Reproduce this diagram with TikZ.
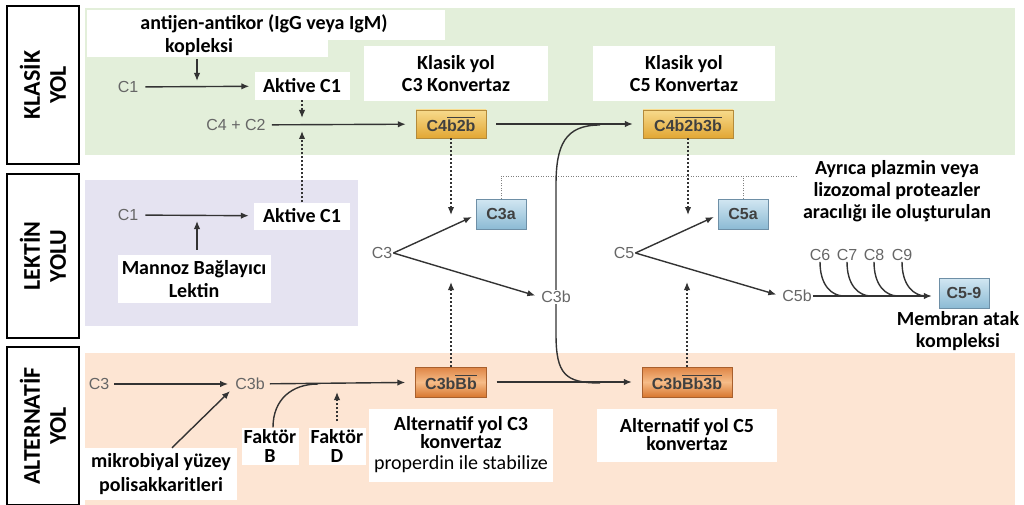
\documentclass[tikz,border=0pt]{standalone}
\usepackage{fontspec}
\setmainfont{Carlito}
\newfontfamily\compfont{Liberation Sans}
\usetikzlibrary{arrows.meta,positioning,calc}

\definecolor{klasikbg}{HTML}{E3EFDA}
\definecolor{lektinbg}{HTML}{E5E3F1}
\definecolor{alterbg}{HTML}{FDE5D3}
\definecolor{compgrey}{HTML}{666666}
\definecolor{arrgrey}{HTML}{333333}
\definecolor{goldtop}{HTML}{F7DA8C}
\definecolor{goldbot}{HTML}{E2A734}
\definecolor{goldline}{HTML}{B48A3A}
\definecolor{orgtop}{HTML}{DE8444}
\definecolor{orgmid}{HTML}{F6BC88}
\definecolor{orgbot}{HTML}{D8772F}
\definecolor{orgline}{HTML}{A8602E}
\definecolor{bluetop}{HTML}{D2E7F2}
\definecolor{bluebot}{HTML}{8CBAD4}
\definecolor{blueline}{HTML}{6E8FA6}

% bar over the convertase subunits
\newcommand{\konvbar}[1]{\leavevmode\vbox{\hrule height 0.7pt\kern 2pt\hbox{#1}}}

\begin{document}
\begin{tikzpicture}[x=1pt, y=-1pt, >={Latex[length=8pt,width=6.5pt]},
  every node/.style={font=\bfseries\fontsize{20}{22}\selectfont}]
\tikzset{yolbox/.style={draw, line width=2.6pt, fill=white, rotate=90, align=center, inner sep=0pt, minimum height=72pt, font=\bfseries\fontsize{24}{26}\selectfont}}
\tikzset{lbl/.style={fill=white, align=center, inner sep=0pt}}
\tikzset{comp/.style={font=\compfont\fontsize{16}{18}\selectfont, text=compgrey, inner sep=1pt}}
\tikzset{konvbox/.style={draw=goldline, top color=goldtop, bottom color=goldbot, minimum height=28pt, inner sep=2pt, font=\compfont\bfseries\fontsize{16}{18}\selectfont, text=black!75}}
\tikzset{altkonv/.style={konvbox, draw=orgline, top color=orgtop, bottom color=orgbot, middle color=orgmid, minimum height=30pt}}
\tikzset{fragbox/.style={konvbox, draw=blueline, top color=bluetop, bottom color=bluebot, minimum width=50pt, minimum height=30pt}}
\tikzset{arr/.style={->, line width=1.4pt, draw=arrgrey}}
\tikzset{dotarr/.style={arr, dash pattern=on 2pt off 2pt}}
\tikzset{ln/.style={line width=1.4pt, draw=arrgrey}}
\tikzset{thindot/.style={draw=gray, line width=0.8pt, dash pattern=on 1pt off 1.5pt}}

% background bands
\fill[klasikbg] (85,8) rectangle (1015,155);
\fill[lektinbg] (85,180) rectangle (358,326);
\fill[alterbg] (85,353) rectangle (1015,505);
\useasboundingbox (0,0) rectangle (1024,501);

% pathway labels
\node[yolbox, minimum width=158pt] (klasik) at (43,85) {KLASİK\\YOL};
\node[yolbox, minimum width=164pt] (lektin) at (43,256) {LEKTİN\\YOLU};
\node[yolbox, minimum width=158pt] (alter) at (43,426) {ALTERNATİF\\YOL};

% klasik yol
\fill[white] (87,10) rectangle (445,40);
\fill[white] (87,38) rectangle (328,57);
\node (agab) at (264,24) {antijen-antikor (IgG veya IgM)};
\node (kopl) at (199,47) {kopleksi};
\coordinate (kopin) at (197,81);
\node[comp] (c1k) at (128,87) {C1};
\node[lbl, minimum width=95pt, minimum height=28pt] (akk) at (302,86) {Aktive C1};
\draw[arr, shorten <=6pt, shorten >=5pt] (c1k) -- (akk);
\draw[arr] (kopl.south -| kopin) -- (kopin);
\node[comp] (c4c2) at (236,125) {C4 + C2};
\node[konvbox, minimum width=70pt] (c4b2b) at (451,124) {C4\konvbar{b2b}};
\node[konvbox, minimum width=90pt] (c5kl) at (688,124) {C4\konvbar{b2b3b}};
\node[lbl, minimum width=184pt, minimum height=55pt] (kc3) at (456,74) {Klasik yol\\C3 Konvertaz};
\node[lbl, minimum width=182pt, minimum height=55pt] (kc5) at (684,74) {Klasik yol\\C5 Konvertaz};
\draw[arr, shorten <=5pt, shorten >=10pt] (c4c2) -- (c4b2b);
\draw[arr, shorten <=10pt, shorten >=10pt] (c4b2b) -- (c5kl);
\draw[dotarr, shorten >=7pt] (akk) -- (akk |- c4c2);

% lektin yolu
\node[comp] (c1l) at (128,215) {C1};
\node[lbl, minimum width=96pt, minimum height=27pt] (akl) at (302,216) {Aktive C1};
\draw[arr, shorten <=6pt, shorten >=5pt] (c1l) -- (akl);
\node[lbl, minimum width=153pt, minimum height=48pt, font=\bfseries\fontsize{20}{23}\selectfont] (mbl) at (194,279) {Mannoz Bağlayıcı\\Lektin};
\coordinate (mblin) at (197,221);
\draw[arr] ($(mbl.north -| mblin)+(0,-5)$) -- (mblin);
\draw[dotarr, shorten >=6pt] (akl) -- (akl |- c4c2);

% C3 ve C5 yarilmasi
\coordinate (c3dn) at (451,215);
\coordinate (c5dn) at (688,215);
\draw[dotarr] (c4b2b) -- (c3dn);
\draw[dotarr] (c5kl) -- (c5dn);
\node[fragbox] (c3a) at (501,214) {C3a};
\node[fragbox] (c5a) at (743,214) {C5a};
\node[align=center] (plzm) at (897,191) {Ayrıca plazmin veya\\lizozomal proteazler\\aracılığı ile oluşturulan};
\coordinate (plz) at (797,176);
\draw[thindot] (c3a.north) |- (plz);
\draw[thindot] (c5a.north) -- (c5a.north |- plz);
\node[comp] (c3) at (382,253) {C3};
\node[comp, fill=white] (c3b) at (556,297) {C3b};
\draw[arr] (c3.east) -- ($(c3a.west)+(-4,3)$);
\draw[arr, shorten >=5pt] (c3.east) -- (c3b.west);
\coordinate (mtop) at (600,125);
\coordinate (mbot) at (600,383);
\draw[ln] (c3b.north) -- ++(0,-105) .. controls +(0,-40) and (565,125) .. (mtop);
\draw[ln] (c3b.south) -- ++(0,30) .. controls +(0,40) and (565,383) .. (mbot);
\node[comp] (c5) at (624,253) {C5};
\node[comp] (c5b) at (797,296) {C5b};
\draw[arr] (c5.east) -- ($(c5a.west)+(-4,3)$);
\draw[arr, shorten >=5pt] (c5.east) -- (c5b.west);
\node[fragbox] (mac) at (964,293) {C5-9};
\draw[arr, shorten >=7pt] (c5b) -- (c5b -| mac.west);
\foreach \n/\x in {6/820,7/847,8/874,9/902} {
  \node[comp] (c\n) at (\x,255) {C\n};
  \draw[ln] (c\n.south) .. controls +(0,24) and +(-12,0) .. ({\x+24},296);
}
\node[align=center] (memb) at (958,331) {Membran atak\\kompleksi};

% alternatif yol
\node[comp] (c3al) at (99,384) {C3};
\node[comp] (c3bal) at (250,384) {C3b};
\draw[arr, shorten <=4pt, shorten >=6pt] (c3al) -- (c3bal);
\node[altkonv, minimum width=71pt] (c3bbb) at (451,382) {C3b\konvbar{Bb}};
\node[altkonv, minimum width=90pt] (c5alt) at (687,382) {C3b\konvbar{Bb3b}};
\draw[arr, shorten <=4pt, shorten >=10pt] (c3bal) -- (c3bbb);
\draw[arr, shorten <=10pt, shorten >=10pt] (c3bbb) -- (c5alt);
\node[lbl, minimum width=152pt, minimum height=52pt, font=\bfseries\fontsize{20}{24}\selectfont] (mikro) at (161,474) {mikrobiyal yüzey\\polisakkaritleri};
\draw[arr] ([xshift=11pt]mikro.north) -- ($(c3bal.south)+(-20,0)$);
\node[lbl, minimum width=57pt, minimum height=37pt, font=\bfseries\fontsize{20}{18.5}\selectfont] (fb) at (270,446) {Faktör\\B};
\node[lbl, minimum width=57pt, minimum height=37pt, font=\bfseries\fontsize{20}{18.5}\selectfont] (fd) at (337,446) {Faktör\\D};
\coordinate (fbj) at (318,384);
\draw[ln] ([xshift=3pt]fb.north) .. controls +(0,-28) and (292,384) .. (fbj);
\draw[dotarr, shorten <=6pt, shorten >=8pt] (fd.north) -- (fd.north |- c3bal);
\coordinate (c3up) at (451,282);
\coordinate (c5up) at (687,282);
\draw[dotarr] (c3bbb) -- (c3up);
\draw[dotarr] (c5alt) -- (c5up);
\node[lbl, minimum width=184pt, minimum height=73pt, font=\bfseries\fontsize{20}{18}\selectfont] (ac3) at (461,445) {Alternatif yol C3\\konvertaz\\[3pt]{\mdseries properdin ile stabilize}};
\node[lbl, minimum width=180pt, minimum height=53pt, font=\bfseries\fontsize{20}{18}\selectfont] (ac5) at (687,435) {Alternatif yol C5\\konvertaz};
\end{tikzpicture}
\end{document}
